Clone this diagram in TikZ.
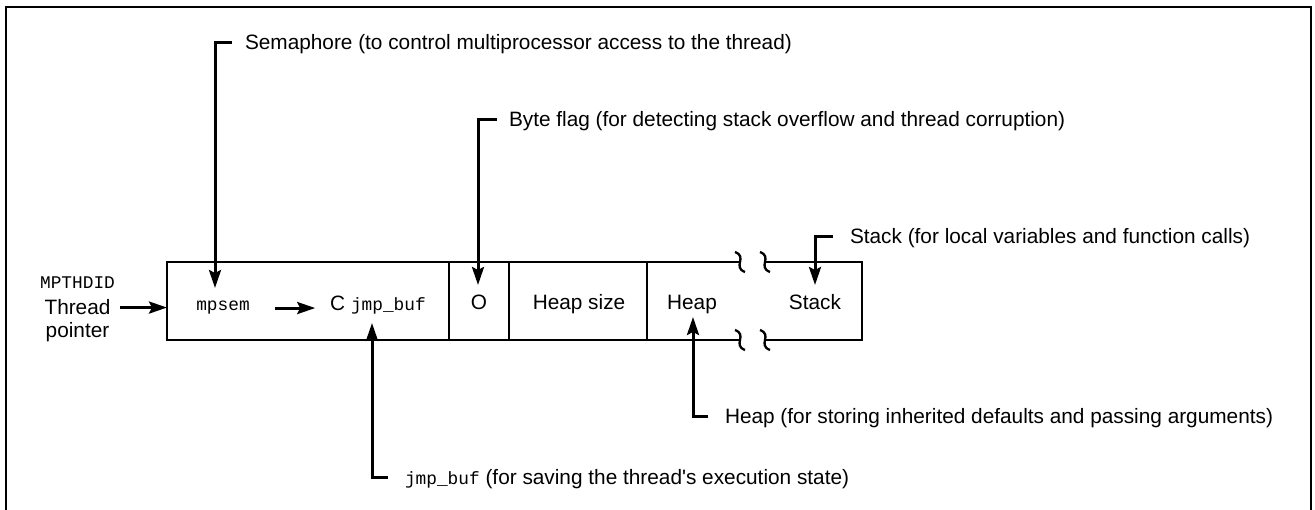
\documentclass[tikz,border=0pt]{standalone}
\usepackage{fontspec}
\setmainfont{Liberation Sans}
\setmonofont{Liberation Mono}
\usetikzlibrary{arrows.meta,calc}
\newcommand\mycode[1]{{\fontsize{17.8}{24}\selectfont\ttfamily #1}}
\tikzset{
  sans/.style={font=\fontsize{20.8}{24}\selectfont, inner sep=0pt, outer sep=0pt},
  mono/.style={font=\fontsize{17.8}{24}\selectfont\ttfamily, inner sep=0pt, outer sep=0pt},
  cellbox/.style={draw, line width=2.8pt, minimum height=78pt, inner sep=0pt, outer sep=0pt},
  outline/.style={line width=2.8pt},
  squig/.style={line width=2.3pt},
  conn/.style={line width=3pt, -{Stealth[length=18pt,width=12pt,inset=3pt]}},
  frame/.style={line width=2pt},
}
\begin{document}
\begin{tikzpicture}[x=1pt,y=-1pt]
\useasboundingbox (0,0) rectangle (1315,510);
\draw[frame] (6,515) -- (6,7) -- (1311,7) -- (1311,515);

% cells
\node[cellbox, minimum width=282pt] (c1) at (308,301) {};
\node[cellbox, minimum width=60pt] (c2) at (479,301) {};
\node[cellbox, minimum width=138pt] (c3) at (578,301) {};
\draw[outline] (c3.north east) -- (740,262);
\draw[outline] (c3.south east) -- (740,340);
\draw[outline] (765,262) -- (862,262) -- (862,340) -- (765,340);
\foreach \x in {740,765} \foreach \y in {262,340}
  \draw[squig] (\x-5,\y-10) .. controls (\x+8,\y-5) and (\x-8,\y+5) .. (\x+5,\y+10);

% cell texts
\node[mono, anchor=base] (mpsem) at (223,311) {mpsem};
\node[sans, anchor=base] (cjmp) at (378,311) {C \mycode{jmp\_buf}};
\node[sans, anchor=base] (oflag) at (479,310) {O};
\node[sans, anchor=base] (hsize) at (579,310) {Heap size};
\node[sans, anchor=base] (heap) at (692,310) {Heap};
\node[sans, anchor=base] (stack) at (815,310) {Stack};

% thread pointer
\node[mono, anchor=base] (mpth) at (77.5,289) {MPTHDID};
\node[sans, anchor=base] (thr) at (77.5,315) {Thread};
\node[sans, anchor=base] (ptr) at (77.5,338) {pointer};
\draw[conn] ([xshift=10pt]thr.east) -- (thr.east -| c1.west);
\draw[conn] ([xshift=25pt]mpsem.east) -- ([xshift=-15pt]mpsem.east -| cjmp.west);

% labels
\node[sans, anchor=base west] (semlbl) at (245,50) {Semaphore (to control multiprocessor access to the thread)};
\node[sans, anchor=base west] (bytelbl) at (509,127) {Byte flag (for detecting stack overflow and thread corruption)};
\node[sans, anchor=base west] (stacklbl) at (850,244) {Stack (for local variables and function calls)};
\node[sans, anchor=base west] (heaplbl) at (725,424) {Heap (for storing inherited defaults and passing arguments)};
\node[sans, anchor=base west] (jmplbl) at (405,484) {\mycode{jmp\_buf} (for saving the thread\textquotesingle s execution state)};

% connectors
\draw[conn] ([xshift=-13pt,yshift=7pt]semlbl.base west) -| ([xshift=-8pt,yshift=23pt]mpsem.base);
\draw[conn] ([xshift=-12pt,yshift=7pt]bytelbl.base west) -| ([xshift=-1pt,yshift=25pt]oflag.base);
\draw[conn] ([xshift=-17pt,yshift=7pt]stacklbl.base west) -| ([yshift=25pt]stack.base);
\draw[conn] ([xshift=-17pt,yshift=7pt]heaplbl.base west) -| ([xshift=1pt,yshift=-7pt]heap.base);
\draw[conn] ([xshift=-17pt,yshift=7pt]jmplbl.base west) -| ([xshift=-6pt,yshift=-12pt]cjmp.base);
\end{tikzpicture}
\end{document}
